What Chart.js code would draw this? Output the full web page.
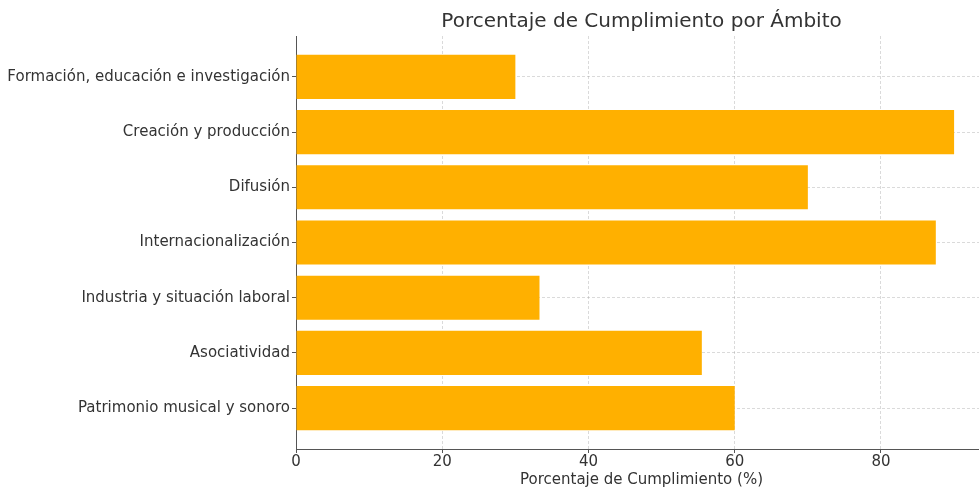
<!DOCTYPE html>
<html>
<head>
<meta charset="utf-8">
<script src="https://cdn.jsdelivr.net/npm/chart.js@4"></script>
<style>
  html, body { margin: 0; padding: 0; overflow: hidden; background: #fff; }
</style>
</head>
<body>
<canvas id="myChart" width="987" height="489"></canvas>
<script>
// chart data
var categories = [
  'Formación, educación e investigación',
  'Creación y producción',
  'Difusión',
  'Internacionalización',
  'Industria y situación laboral',
  'Asociatividad',
  'Patrimonio musical y sonoro'
];
var cumplimiento = [30, 90, 70, 87.5, 33.3, 55.5, 60];
var xTicks = [0, 20, 40, 60, 80];

Chart.defaults.font.family = 'DejaVu Sans';
Chart.defaults.font.size = 15;
Chart.defaults.color = '#333';

var ctx = document.getElementById('myChart').getContext('2d');

var points = categories.map(function(c, i){
  return {x: cumplimiento[i], y: i};
});

var myChart = new Chart(ctx, {
  type: 'bar',
  data: {
    datasets: [{
      label: 'Porcentaje de Cumplimiento',
      data: points,
      backgroundColor: '#ffb000',
      borderWidth: 0,
      categoryPercentage: 1,
      barPercentage: 0.8
    }]
  },
  options: {
    indexAxis: 'y',
    responsive: false,
    animation: false,
    layout: { padding: 0 },
    plugins: {
      legend: { display: false },
      tooltip: { enabled: false },
      title: {
        display: true,
        text: 'Porcentaje de Cumplimiento por Ámbito',
        fullSize: false,
        font: { size: 20, weight: 'normal' },
        color: '#333',
        padding: { top: 10, bottom: 2 }
      }
    },
    scales: {
      x: {
        type: 'linear',
        min: 0,
        max: 94.5,
        offset: false,
        z: 1,
        afterBuildTicks: function(scale){
          scale.ticks = xTicks.map(function(v){ return {value: v}; });
        },
        afterFit: function(scale){ scale.height = 40; },
        ticks: { padding: 0, color: '#333' },
        grid: {
          offset: false,
          color: 'rgba(150,150,150,0.35)',
          tickColor: '#555',
          tickLength: 4,
          tickBorderDash: []
        },
        border: { color: '#555', width: 1, dash: [3, 2] },
        title: {
          display: true,
          text: 'Porcentaje de Cumplimiento (%)',
          color: '#333',
          font: { size: 15 },
          padding: { top: 0, bottom: 0 }
        }
      },
      y: {
        type: 'linear',
        min: -0.74,
        max: 6.74,
        reverse: true,
        offset: false,
        z: 1,
        afterBuildTicks: function(scale){
          scale.ticks = categories.map(function(c, i){ return {value: i}; });
        },
        afterFit: function(scale){ scale.width = 296; },
        ticks: {
          padding: 2,
          color: '#333',
          callback: function(value){ return categories[value]; }
        },
        grid: {
          offset: false,
          color: 'rgba(150,150,150,0.35)',
          tickColor: '#555',
          tickLength: 4,
          tickBorderDash: []
        },
        border: { color: '#555', width: 1, dash: [3, 2] }
      }
    }
  }
});
</script>
</body>
</html>
